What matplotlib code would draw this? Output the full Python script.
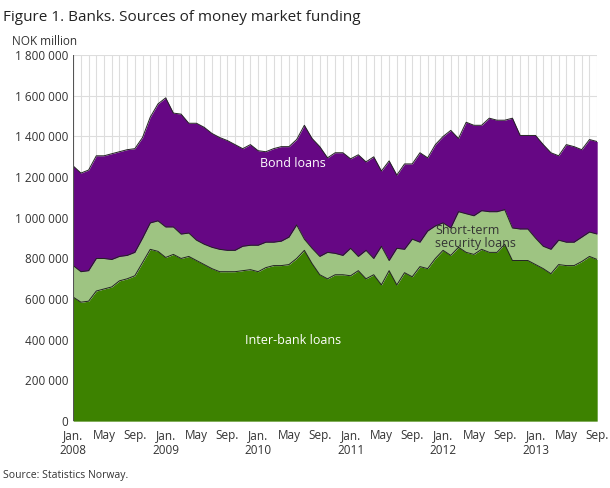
import matplotlib
matplotlib.use("Agg")
import matplotlib.pyplot as plt
import numpy as np

plt.rcParams['font.family'] = ['Open Sans', 'DejaVu Sans']

interbank = [610,585,590,640,650,660,690,700,715,780,845,835,
             805,820,800,810,790,770,750,735,735,735,740,745,
             735,755,765,765,770,800,840,775,720,700,720,720,
             715,740,700,720,670,740,670,730,710,760,750,800,
             840,815,855,830,820,845,830,830,870,790,790,790,
             770,750,725,770,765,765,785,810,795]
mid = [765,735,740,800,800,795,810,815,830,900,975,985,
       955,955,920,925,890,870,855,845,840,840,860,865,
       865,880,880,885,905,965,895,850,810,830,825,815,
       850,810,840,800,860,790,850,845,895,880,935,960,
       975,950,1030,1020,1010,1035,1030,1030,1040,950,945,945,
       900,860,845,890,880,880,905,930,920]
total = [1255,1220,1235,1305,1305,1315,1325,1335,1340,1395,1495,1560,
         1590,1515,1510,1465,1465,1445,1415,1395,1380,1360,1340,1360,
         1330,1325,1340,1350,1350,1385,1455,1390,1350,1295,1320,1320,
         1290,1310,1275,1300,1230,1280,1210,1265,1265,1320,1295,1360,
         1400,1430,1390,1470,1455,1455,1490,1480,1480,1490,1405,1405,
         1405,1360,1320,1305,1360,1350,1335,1385,1375]
xlabels = ["Jan.\n2008","May","Sep.","Jan.\n2009","May","Sep.","Jan.\n2010","May","Sep.",
           "Jan.\n2011","May","Sep.","Jan.\n2012","May","Sep.","Jan.\n2013","May","Sep."]
yticks = list(range(0, 1800001, 200000))

ib = np.array(interbank)*1000; md = np.array(mid)*1000; tt = np.array(total)*1000
x = np.arange(len(ib))

fig = plt.figure(figsize=(6.1, 4.88), dpi=100)
ax = fig.add_axes([0.12, 0.137, 0.859, 0.75])
ax.fill_between(x, 0, ib, color='#3d8200', lw=0, zorder=2)
ax.fill_between(x, ib, md, color='#9ec482', lw=0, zorder=2)
ax.fill_between(x, md, tt, color='#660784', lw=0, zorder=2)
for s in (ib, md, tt):
    ax.plot(x, s, color='#222222', lw=0.7, zorder=3)
ax.set_xlim(0, len(x)-1)
ax.set_ylim(0, 1800000)
ax.set_xticks(np.arange(0, len(x), 4))
ax.set_xticklabels(xlabels, fontsize=8.5, color='#333333')
ax.set_xticks(np.arange(len(x)), minor=True)
ax.set_yticks(yticks)
ax.set_yticklabels([f"{v:,}".replace(",", " ") for v in yticks], fontsize=8.5, color='#333333')
ax.grid(True, which='both', axis='x', color='#dddddd', lw=0.8, zorder=0)
ax.grid(True, axis='y', color='#dddddd', lw=0.8, zorder=0)
ax.set_axisbelow(True)
ax.tick_params(length=0, which='both')
ax.tick_params(axis='x', pad=6)
for sp in ax.spines.values():
    sp.set_visible(False)
ax.axvline(0, color='#555555', lw=0.8, zorder=4)
ax.axhline(0, color='#555555', lw=0.8, zorder=4)

ax.text(28.5, 1250000, "Bond loans", color='white', fontsize=9, ha='center', zorder=5)
ax.text(28.5, 380000, "Inter-bank loans", color='white', fontsize=9, ha='center', zorder=5)
ax.text(47, 855000, "Short-term\nsecurity loans", color='#333333', fontsize=9, ha='left', zorder=5, linespacing=1.0)

fig.text(0.005, 0.965, "Figure 1. Banks. Sources of money market funding", fontsize=11, color='#222222', va='center')
fig.text(0.02, 0.915, "NOK million", fontsize=8.5, color='#333333', va='center')
fig.text(0.005, 0.015, "Source: Statistics Norway.", fontsize=7.5, color='#333333', va='bottom')

fig.savefig("out.png", dpi=100)
